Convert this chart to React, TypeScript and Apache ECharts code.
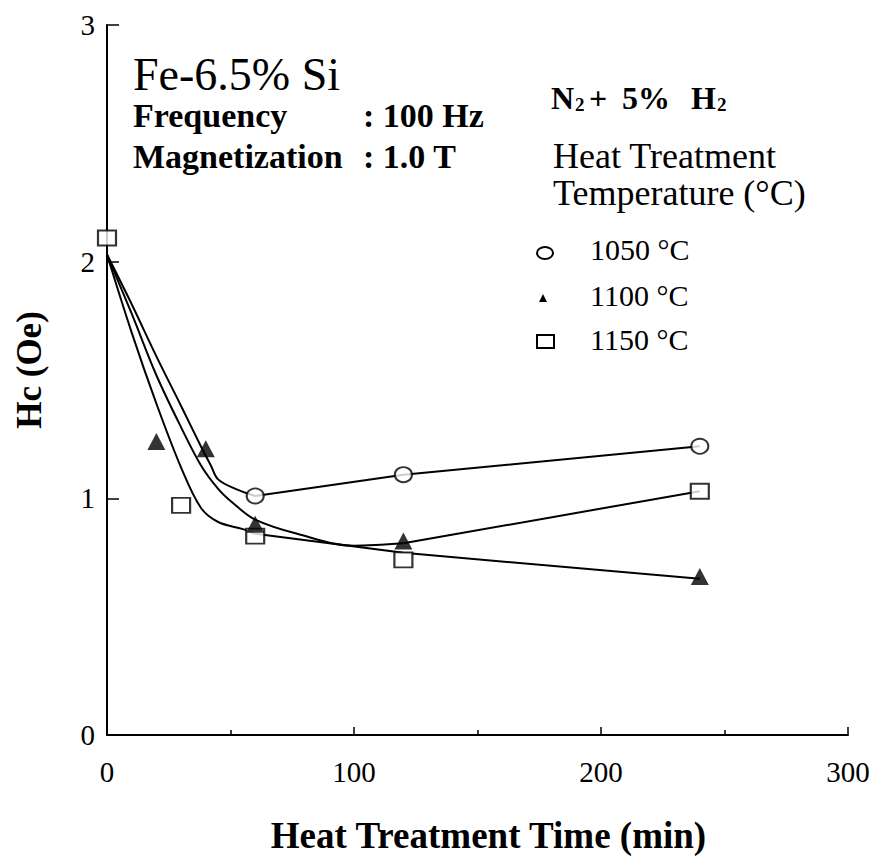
import { useEffect, useRef } from "react";
import * as echarts from "echarts";

const FONT = '"Liberation Serif", "Times New Roman", serif';

// Axis ranges
const xMax = 300;
const xStep = 100;
const yMax = 3;
const yStep = 1;

// Measured coercivity Hc (Oe) vs heat treatment time (min)
const hc1050: number[][] = [[60, 1.01], [120, 1.1], [240, 1.22]];
const hc1100: number[][] = [[20, 1.24], [40, 1.21], [60, 0.89], [120, 0.82], [240, 0.67]];
const hc1150: number[][] = [[0, 2.1], [30, 0.97], [60, 0.84], [120, 0.74], [240, 1.03]];

// Trend lines drawn through the data (curved start, straight tail)
const trendUpperCurve: number[][] = [[0, 2.03], [10, 1.82], [20, 1.6], [30, 1.39], [38, 1.22], [42, 1.14], [45, 1.08], [52, 1.04], [60, 1.01]];
const trendUpperTail: number[][] = [[60, 1.01], [120, 1.1], [240, 1.22]];
const trendMiddleCurve: number[][] = [[0, 2.03], [10, 1.78], [20, 1.52], [30, 1.3], [38, 1.14], [45, 1.04], [51, 0.98], [60, 0.91], [77, 0.85], [100, 0.8], [120, 0.81]];
const trendMiddleTail: number[][] = [[120, 0.81], [240, 1.03]];
const trendLowerCurve: number[][] = [[0, 2.03], [10, 1.7], [20, 1.4], [30, 1.13], [38, 0.96], [45, 0.9], [55, 0.87], [60, 0.85]];
const trendLowerTail: number[][] = [[60, 0.85], [120, 0.77], [240, 0.66]];

const legendLabels = ["1050 °C", "1100 °C", "1150 °C"];

export default function App() {
  const ref = useRef<HTMLDivElement>(null);

  useEffect(() => {
    if (!ref.current) return;
    const chart = echarts.init(ref.current, null, { renderer: "svg" });

    const lineStyle = { color: "#000", width: 2 };
    const curve = (data: number[][]) => ({
      type: "line",
      data,
      smooth: 0.35,
      showSymbol: false,
      symbol: "none",
      lineStyle,
      z: 2,
      silent: true,
    });
    const straight = (data: number[][]) => ({
      type: "line",
      data,
      smooth: false,
      showSymbol: false,
      symbol: "none",
      lineStyle,
      z: 2,
      silent: true,
    });

    const txt = (text: string, x: number, y: number, size: number, bold = false, extra: any = {}) => ({
      type: "text",
      x,
      y,
      z: 10,
      style: {
        text,
        fill: "#000",
        font: `${bold ? "bold " : ""}${size}px ${FONT}`,
        align: "left",
        verticalAlign: "middle",
        ...extra,
      },
    });

    chart.setOption({
      animation: false,
      backgroundColor: "#fff",
      grid: { left: 107, right: 28, top: 25, bottom: 125, containLabel: false },
      xAxis: {
        type: "value",
        min: 0,
        max: xMax,
        interval: xStep,
        name: "Heat Treatment Time (min)",
        nameLocation: "middle",
        nameGap: 82,
        nameTextStyle: { fontFamily: FONT, fontSize: 37, fontWeight: "bold", color: "#000", padding: [0, 0, 0, 22] },
        axisLine: { lineStyle: { color: "#000", width: 2 } },
        axisTick: { inside: true, length: 8, lineStyle: { color: "#000", width: 1.5 } },
        minorTick: { show: true, splitNumber: 2, length: 5, lineStyle: { color: "#000", width: 1.5 } },
        axisLabel: { fontFamily: FONT, fontSize: 29, color: "#000", margin: 22 },
        splitLine: { show: false },
      },
      yAxis: {
        type: "value",
        min: 0,
        max: yMax,
        interval: yStep,
        name: "Hc (Oe)",
        nameLocation: "middle",
        nameGap: 60,
        nameRotate: 90,
        nameTextStyle: { fontFamily: FONT, fontSize: 35, fontWeight: "bold", color: "#000", padding: [0, 0, 0, 20] },
        axisLine: { lineStyle: { color: "#000", width: 2 } },
        axisTick: { inside: true, length: 12, lineStyle: { color: "#000", width: 1.5 } },
        axisLabel: { fontFamily: FONT, fontSize: 29, color: "#000", margin: 12 },
        splitLine: { show: false },
      },
      series: [
        curve(trendUpperCurve),
        straight(trendUpperTail),
        curve(trendMiddleCurve),
        straight(trendMiddleTail),
        curve(trendLowerCurve),
        straight(trendLowerTail),
        {
          name: legendLabels[0],
          type: "scatter",
          data: hc1050,
          symbol: "circle",
          symbolSize: [17, 15],
          itemStyle: { color: "#fff", borderColor: "#000", borderWidth: 2 },
          z: 5,
        },
        {
          name: legendLabels[2],
          type: "scatter",
          data: hc1150,
          symbol: "rect",
          symbolSize: [18, 15],
          itemStyle: { color: "#fff", borderColor: "#000", borderWidth: 2 },
          z: 5,
        },
        {
          name: legendLabels[1],
          type: "scatter",
          data: hc1100,
          symbol: "triangle",
          symbolSize: [18, 17],
          itemStyle: { color: "#000" },
          z: 6,
        },
      ],
      graphic: [
        txt("Fe-6.5% Si", 133, 74, 46),
        txt("Frequency", 133, 115, 34, true),
        txt(": 100 Hz", 363, 115, 34, true),
        txt("Magnetization", 133, 156, 34, true),
        txt(": 1.0 T", 363, 156, 34, true),
        // N2 + 5% H2 with subscripts
        txt("N", 551, 98, 32, true),
        txt("2", 575, 104, 19, true),
        txt("+", 589, 98, 32, true),
        txt("5%", 622, 98, 32, true),
        txt("H", 691, 98, 32, true),
        txt("2", 717, 104, 19, true),
        txt("Heat Treatment", 553, 156, 36),
        txt("Temperature (°C)", 553, 193, 36),
        txt(legendLabels[0], 590, 249, 30),
        txt(legendLabels[1], 590, 295, 30),
        txt(legendLabels[2], 590, 339, 30),
        {
          type: "ellipse",
          shape: { cx: 545, cy: 253, rx: 8, ry: 6 },
          style: { fill: "none", stroke: "#000", lineWidth: 2 },
          z: 10,
        },
        {
          type: "polygon",
          shape: { points: [[539, 302], [547, 302], [543, 294]] },
          style: { fill: "#000" },
          z: 10,
        },
        {
          type: "rect",
          shape: { x: 537, y: 335, width: 17, height: 13 },
          style: { fill: "none", stroke: "#000", lineWidth: 2 },
          z: 10,
        },
      ],
    });

    return () => chart.dispose();
  }, []);

  return <div ref={ref} style={{ width: 876, height: 860, position: "absolute", left: 0, top: 0 }} />;
}
